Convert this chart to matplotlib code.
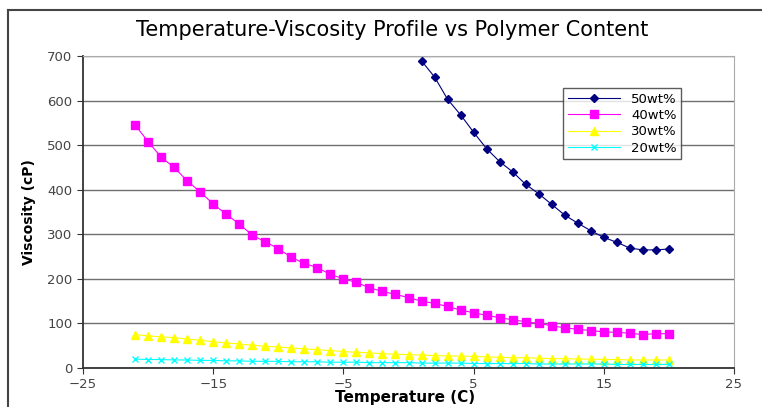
import matplotlib
matplotlib.use("Agg")
import matplotlib.pyplot as plt
import numpy as np

temps = list(range(-21, 21))
temps_50 = list(range(1, 21))

visc_50 = [689, 653, 603, 568, 529, 492, 463, 440, 412, 391,
           367, 343, 325, 308, 293, 282, 269, 265, 265, 267]
visc_40 = [545, 508, 473, 450, 420, 395, 368, 345, 323, 298,
           283, 268, 248, 235, 225, 210, 200, 192, 180, 172,
           165, 158, 150, 145, 138, 130, 124, 118, 113, 108,
           104, 100, 95, 90, 87, 84, 81, 80, 78, 75, 77, 77]
visc_30 = [75, 72, 70, 68, 65, 62, 59, 56, 54, 51,
           49, 47, 45, 43, 41, 39, 37, 35, 34, 32,
           31, 30, 29, 28, 27, 27, 26, 25, 24, 23,
           23, 22, 21, 21, 20, 20, 19, 19, 18, 18, 18, 18]
visc_20 = [20, 19, 19, 18, 18, 17, 17, 16, 16, 15,
           15, 15, 14, 14, 14, 13, 13, 13, 12, 12,
           12, 12, 11, 11, 11, 11, 10, 10, 10, 10,
           10, 9, 9, 9, 9, 9, 9, 8, 8, 8, 8, 8]

fig = plt.figure(figsize=(7.62, 4.07), dpi=100)
ax = fig.add_axes([83/762, 1 - 368/407, (734 - 83)/762, (368 - 56)/407])

# outer chart border (cropped on right/bottom)
fig.add_artist(plt.Line2D([8/762, 1], [1 - 10/407, 1 - 10/407], color="#444444", lw=1.5))
fig.add_artist(plt.Line2D([8/762, 8/762], [0, 1 - 10/407], color="#444444", lw=1.5))

ax.plot(temps_50, visc_50, color="#000080", marker="D", markersize=4, lw=0.8, label="50wt%")
ax.plot(temps, visc_40, color="#FF00FF", marker="s", markersize=6, lw=0.8, label="40wt%")
ax.plot(temps, visc_30, color="#FFFF00", marker="^", markersize=5.5, lw=0.8, label="30wt%")
ax.plot(temps, visc_20, color="#00FFFF", marker="x", markersize=5, lw=0.8, label="20wt%")

ax.set_xlim(-25, 25)
ax.set_ylim(0, 700)
ax.set_xticks(range(-25, 26, 10))
ax.set_yticks(range(0, 701, 100))
ax.yaxis.grid(True, color="#707070", lw=1)
ax.set_axisbelow(True)

for s in ["top", "right"]:
    ax.spines[s].set_color("#aaaaaa")
for s in ["left", "bottom"]:
    ax.spines[s].set_color("#333333")
    ax.spines[s].set_linewidth(1.3)
ax.tick_params(direction="out", length=4, color="#333333", labelsize=9.5, labelcolor="#444444")

fig.text(0.515, 1 - 30/407, "Temperature-Viscosity Profile vs Polymer Content",
         ha="center", va="center", fontsize=15)
ax.set_ylabel("Viscosity (cP)", fontsize=10, fontweight="bold", labelpad=8)
fig.text(0.532, 0.005, "Temperature (C)", ha="center", va="bottom",
         fontsize=11, fontweight="bold")

leg = ax.legend(loc="upper left", bbox_to_anchor=((563 - 83)/651, 1 - (88 - 56)/312),
                fontsize=9.5, frameon=True, fancybox=False, edgecolor="#333333",
                handlelength=4.0, borderpad=0.35, labelspacing=0.25, borderaxespad=0)
leg.get_frame().set_linewidth(1)

fig.savefig("out.png", dpi=100)
